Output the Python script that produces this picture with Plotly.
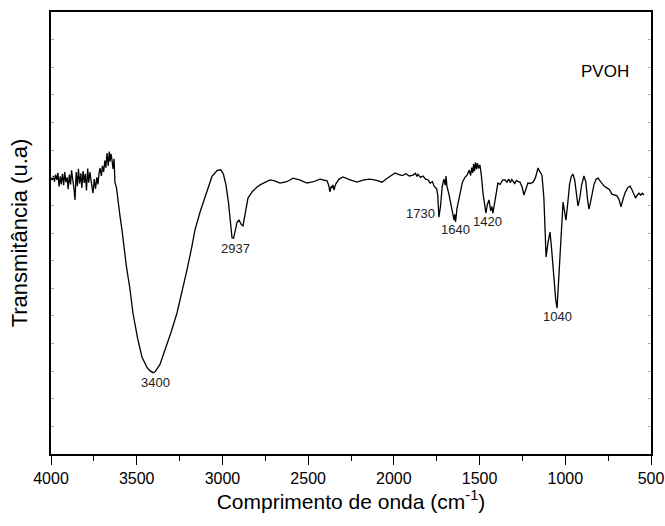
import plotly.graph_objects as go

# FTIR spectrum of PVOH (wavenumber in cm-1, transmittance in a.u.)
wavenumber = [
    4000, 3993, 3986, 3980, 3973, 3966, 3960, 3953, 3946, 3940, 3933, 3926, 3920, 3913,
    3906, 3900, 3893, 3886, 3880, 3873, 3866, 3860, 3853, 3846, 3840, 3833, 3826, 3820,
    3813, 3806, 3800, 3793, 3786, 3780, 3773, 3766, 3760, 3755, 3748, 3740, 3733, 3726,
    3720, 3714, 3706, 3700, 3693, 3686, 3680, 3673, 3666, 3660, 3655, 3650, 3644, 3638,
    3632, 3627, 3618, 3609, 3598, 3586, 3578, 3572, 3568, 3560, 3540, 3522, 3495, 3469,
    3440, 3422, 3405, 3393, 3365, 3335, 3300, 3265, 3235, 3207, 3180, 3160, 3130, 3100,
    3061, 3030, 3010, 2995, 2980, 2965, 2950, 2944, 2935, 2925, 2915, 2903, 2890, 2880,
    2865, 2851, 2825, 2798, 2775, 2752, 2722, 2695, 2664, 2625, 2588, 2550, 2507, 2470,
    2431, 2390, 2380, 2373, 2365, 2360, 2355, 2349, 2340, 2320, 2297, 2255, 2215, 2175,
    2139, 2100, 2069, 2045, 2022, 2005, 1993, 1970, 1950, 1930, 1910, 1888, 1875, 1865,
    1859, 1845, 1830, 1815, 1800, 1789, 1775, 1765, 1760, 1750, 1744, 1737, 1728, 1718,
    1708, 1700, 1696, 1690, 1680, 1670, 1660, 1655, 1649, 1645, 1640, 1632, 1624, 1614,
    1600, 1585, 1573, 1560, 1552, 1546, 1540, 1535, 1530, 1524, 1518, 1512, 1506, 1498,
    1490, 1480, 1470, 1463, 1455, 1445, 1435, 1428, 1422, 1410, 1400, 1393, 1380, 1365,
    1352, 1340, 1330, 1320, 1312, 1305, 1295, 1285, 1275, 1264, 1252, 1241, 1230, 1218,
    1205, 1188, 1175, 1165, 1159, 1150, 1140, 1136, 1125, 1118, 1112, 1100, 1089, 1080,
    1068, 1056, 1048, 1040, 1030, 1020, 1013, 1005, 996, 985, 975, 965, 955, 945, 935,
    926, 915, 905, 891, 880, 870, 862, 850, 840, 833, 820, 809, 790, 770, 757, 742, 728,
    712, 698, 685, 675, 663, 650, 635, 622, 611, 600, 590, 580, 570, 560, 550, 542, 535,
    520, 510, 500,
]

transmittance = [
    62.4, 62.0, 62.9, 61.6, 63.2, 62.0, 63.6, 60.5, 62.8, 61.0, 63.4, 60.8, 63.8, 61.5,
    62.6, 59.9, 63.2, 61.0, 64.2, 62.5, 60.0, 57.5, 63.8, 60.6, 64.5, 61.2, 63.5, 60.2,
    64.0, 61.3, 63.4, 59.6, 64.6, 61.4, 63.8, 61.8, 60.5, 59.0, 62.2, 60.0, 62.6, 61.0,
    63.5, 64.7, 62.9, 65.2, 63.8, 66.4, 64.8, 68.1, 65.2, 68.4, 66.2, 67.9, 66.5, 64.5,
    66.8, 61.5, 60.2, 57.9, 54.0, 50.7, 48.0, 46.3, 43.8, 42.4, 37.5, 31.9, 26.2, 21.9,
    19.6, 18.8, 18.4, 18.6, 20.2, 23.5, 27.5, 31.9, 36.8, 41.6, 46.6, 50.7, 54.8, 58.2,
    62.8, 64.2, 64.3, 63.4, 61.0, 57.0, 51.5, 48.9, 48.8, 50.4, 52.4, 52.9, 51.9, 51.6,
    54.5, 57.9, 59.4, 60.4, 61.0, 61.5, 62.0, 61.8, 61.3, 61.6, 62.4, 62.0, 61.3, 61.6,
    62.2, 61.8, 60.8, 59.3, 60.6, 60.2, 60.9, 59.7, 61.0, 62.2, 62.7, 62.0, 61.5, 62.0,
    62.2, 61.9, 61.5, 62.2, 62.9, 63.3, 63.6, 63.2, 63.0, 63.4, 62.9, 63.1, 63.5, 62.8,
    63.3, 62.6, 62.9, 62.2, 62.0, 61.3, 61.6, 60.6, 60.4, 60.0, 58.5, 53.6, 56.0, 60.5,
    62.2, 60.8, 62.9, 60.5, 59.0, 57.0, 55.0, 53.8, 52.9, 54.2, 52.5, 55.5, 57.0, 59.3,
    61.5, 62.6, 63.1, 64.2, 63.0, 64.8, 63.6, 65.6, 64.0, 66.0, 64.4, 65.8, 64.6, 65.4,
    63.2, 59.0, 55.5, 54.5, 56.4, 57.5, 55.0, 56.0, 54.5, 57.8, 60.0, 61.3, 61.0, 62.0,
    62.0, 61.5, 62.2, 61.4, 62.1, 61.8, 61.2, 61.9, 61.6, 61.5, 60.4, 58.6, 60.0, 61.3,
    61.2, 61.5, 62.4, 64.0, 64.7, 64.0, 63.4, 63.1, 58.0, 50.0, 44.6, 48.0, 50.2, 46.5,
    40.5, 35.0, 33.0, 38.5, 47.5, 55.0, 57.0, 55.0, 52.9, 57.0, 61.0, 62.8, 63.3, 62.0,
    58.5, 56.1, 58.0, 60.8, 62.9, 61.5, 57.5, 55.4, 57.5, 59.8, 60.9, 62.2, 62.4, 61.4,
    60.5, 60.2, 59.8, 58.8, 58.6, 58.4, 57.4, 55.9, 57.7, 59.2, 60.3, 60.6, 59.8, 58.9,
    57.9, 58.6, 59.0, 58.6, 59.0, 58.6,
]

peak_positions = [3393, 2921, 1842, 1643, 1451, 1048]
peak_labels = ["3400", "2937", "1730", "1640", "1420", "1040"]
peak_label_y = [16.1, 46.6, 54.3, 50.9, 52.5, 31.2]

sample_name = "PVOH"
FONT = "Liberation Sans, Arial"

fig = go.Figure()
fig.add_trace(go.Scatter(
    x=wavenumber, y=transmittance, mode="lines",
    line=dict(color="black", width=1.3), showlegend=False,
))

for xv, lab, yv in zip(peak_positions, peak_labels, peak_label_y):
    fig.add_annotation(x=xv, y=yv, text=lab, showarrow=False,
                       font=dict(family=FONT, size=13, color="#222"),
                       xanchor="center", yanchor="middle")

fig.add_annotation(x=770, y=86.5, text=sample_name, showarrow=False,
                   font=dict(family=FONT, size=17, color="black"),
                   xanchor="center", yanchor="middle")

fig.update_layout(
    width=665, height=526,
    margin=dict(l=51, r=14, t=12, b=72, autoexpand=False),
    paper_bgcolor="white", plot_bgcolor="white",
    font=dict(family=FONT, color="black"),
    xaxis=dict(
        range=[4000, 500], dtick=500, tick0=500, automargin=False,
        ticks="outside", ticklen=9, tickwidth=1.3, tickcolor="black",
        showline=True, linecolor="black", linewidth=1.5, mirror=True,
        showgrid=False, zeroline=False,
        tickfont=dict(size=16, family=FONT),
        minor=dict(dtick=250, ticks="outside", ticklen=5, tickcolor="black", tickwidth=1.2),
        title=dict(text="Comprimento de onda (cm<sup>-1</sup>)",
                   font=dict(size=21, family=FONT), standoff=3),
    ),
    yaxis=dict(
        range=[0, 100], dtick=6.25, automargin=False,
        ticks="inside", ticklen=3, tickcolor="#aaa", tickwidth=1,
        showticklabels=False,
        showline=True, linecolor="black", linewidth=1.5, mirror="allticks",
        showgrid=False, zeroline=False,
        title=dict(text="Transmitância (u.a)",
                   font=dict(size=22, family=FONT), standoff=16),
    ),
)

fig.write_html("out.html")
